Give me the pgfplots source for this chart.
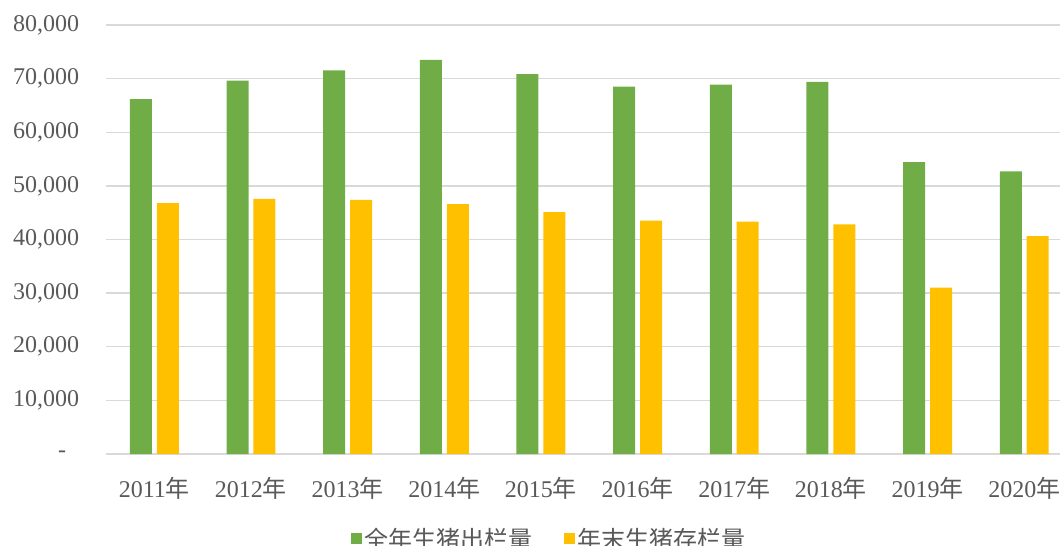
\documentclass[border=0pt]{standalone}
\usepackage{pgfplots}
\pgfplotsset{compat=1.18}
\usepackage{fontspec}
\setmainfont{Liberation Serif}
\newfontfamily\cjk{Noto Sans CJK SC}
\definecolor{bargreen}{HTML}{70AD47}
\definecolor{baryellow}{HTML}{FFC000}
\definecolor{txt}{HTML}{595959}
\definecolor{gridc}{HTML}{D9D9D9}
\begin{document}
\begin{tikzpicture}
\useasboundingbox (0,0) rectangle (795pt,409.5pt);
\begin{axis}[
  at={(79.5pt,69pt)}, anchor=south west,
  width=715.5pt, height=321.75pt, scale only axis,
  ybar, bar width=16.5pt,
  xmin=-0.5, xmax=9.37, ymin=0, ymax=80000,
  scaled y ticks=false,
  xtick={0,...,9},
  xticklabels={2011{\cjk 年},2012{\cjk 年},2013{\cjk 年},2014{\cjk 年},2015{\cjk 年},2016{\cjk 年},2017{\cjk 年},2018{\cjk 年},2019{\cjk 年},2020{\cjk 年}},
  ytick={0,10000,20000,30000,40000,50000,60000,70000,80000},
  yticklabels={{-\hspace*{9.75pt}},{10,000},{20,000},{30,000},{40,000},{50,000},{60,000},{70,000},{80,000}},
  ymajorgrids, grid style={draw=gridc, line width=1.1pt},
  axis line style={draw=none}, major tick length=0pt,
  tick label style={font=\fontsize{18}{20}\selectfont, text=txt},
  yticklabel style={inner sep=0pt, anchor=east, xshift=-20pt},
  xticklabel style={inner sep=0pt, anchor=north, yshift=-17pt},
  legend style={draw=none, at={(0.465,-0.198)}, anchor=center, legend columns=2,
    font=\fontsize{18}{20}\selectfont, text=txt,
    /tikz/every even column/.append style={column sep=22pt}},
  sq/.style={legend image code/.code={\fill[##1] (0pt,-4.1pt) rectangle (8.25pt,4.1pt);}},
]
\addplot[fill=bargreen, draw=none, bar shift=-10.1pt, sq] coordinates {
(0,66170) (1,69628) (2,71557) (3,73510) (4,70825) (5,68502) (6,68861) (7,69382) (8,54419) (9,52704)};
\addplot[fill=baryellow, draw=none, bar shift=10.1pt, sq] coordinates {
(0,46767) (1,47592) (2,47411) (3,46583) (4,45113) (5,43504) (6,43325) (7,42817) (8,31041) (9,40650)};
\legend{{\cjk 全年生猪出栏量},{\cjk 年末生猪存栏量}}
\end{axis}
\end{tikzpicture}
\end{document}
